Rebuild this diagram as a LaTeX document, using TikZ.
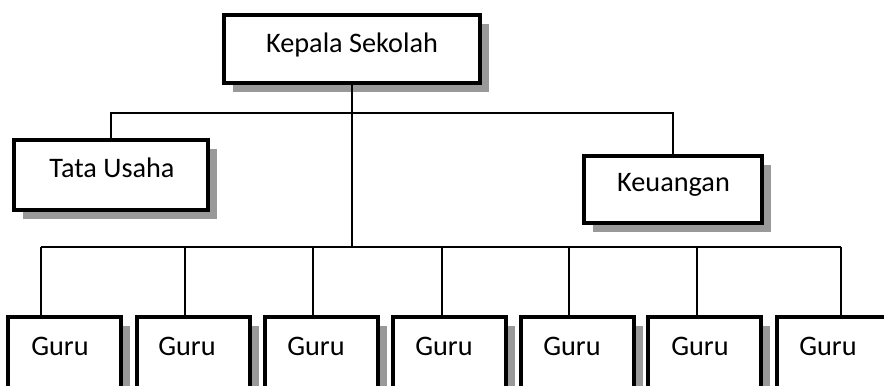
\documentclass[tikz,border=0pt]{standalone}
\usepackage{fontspec}
\setmainfont{Carlito}
\usetikzlibrary{shadows}
\definecolor{shadowgray}{RGB}{153,153,153}
\tikzset{
  orgbox/.style={draw=black, line width=2.3pt, fill=white, inner sep=0pt,
    drop shadow={shadow xshift=6.4pt, shadow yshift=-6.4pt, fill=shadowgray, opacity=1}},
  gurubox/.style={orgbox, minimum width=84.75pt, minimum height=54pt},
  lbl/.style={inner sep=0pt, font=\fontsize{21.2}{25}\selectfont},
  conn/.style={draw=black, line width=1.1pt}
}
\begin{document}
\begin{tikzpicture}[x=0.75pt, y=-0.75pt]
\useasboundingbox (0,0) rectangle (884,385);
\clip (0,0) rectangle (884,385);
% boxes
\node[orgbox, minimum width=192pt, minimum height=51pt] (kepala) at (352,49) {};
\node[orgbox, minimum width=145.5pt, minimum height=52.5pt] (tata) at (111,175) {};
\node[orgbox, minimum width=133.5pt, minimum height=50.25pt] (keu) at (673,189.5) {};
\node[gurubox] (g1) at (64.5,353) {};
\node[gurubox] (g2) at (193.5,353) {};
\node[gurubox] (g3) at (321.5,353) {};
\node[gurubox] (g4) at (449.5,353) {};
\node[gurubox] (g5) at (577.5,353) {};
\node[gurubox] (g6) at (704.5,353) {};
\node[gurubox] (g7) at (833.5,353) {};
% labels
\node[lbl, anchor=base] (kepalat) at (352,53) {Kepala Sekolah};
\node[lbl, anchor=base] (tatat) at (112,177) {Tata Usaha};
\node[lbl, anchor=base] (keut) at (673.5,191) {Keuangan};
\node[lbl, anchor=base west] (g1t) at (31,355) {Guru};
\node[lbl, anchor=base west] (g2t) at (158,355) {Guru};
\node[lbl, anchor=base west] (g3t) at (287,355) {Guru};
\node[lbl, anchor=base west] (g4t) at (415,355) {Guru};
\node[lbl, anchor=base west] (g5t) at (543,355) {Guru};
\node[lbl, anchor=base west] (g6t) at (671,355) {Guru};
\node[lbl, anchor=base west] (g7t) at (799,355) {Guru};
% connector coordinates
\coordinate (ja) at (352,113);
\coordinate (b1) at (41,247);
\coordinate (b2) at (185,247);
\coordinate (b3) at (313,247);
\coordinate (b4) at (442,247);
\coordinate (b5) at (569,247);
\coordinate (b6) at (697,247);
\coordinate (b7) at (841,247);
% connectors
\draw[conn] (kepala.south) -- (kepala.south |- b1);
\draw[conn] (tata.north) |- (ja) -| (keu.north);
\draw[conn] (b1) -- (b7);
\foreach \i in {1,...,7} {
  \draw[conn] (b\i) -- (b\i |- g\i.north);
}
\end{tikzpicture}
\end{document}
